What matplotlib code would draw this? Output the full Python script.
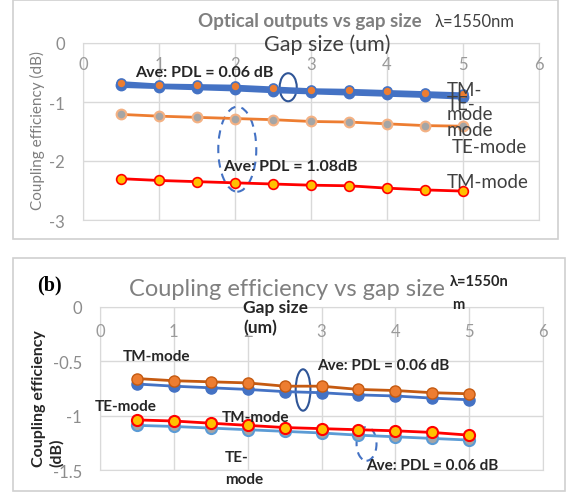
import matplotlib
matplotlib.use('Agg')
import matplotlib.pyplot as plt
from matplotlib.patches import Ellipse, Rectangle

plt.rcParams['font.family'] = ['Lato', 'DejaVu Sans']

# gap size (um)
gap = [0.5, 1.0, 1.5, 2.0, 2.5, 3.0, 3.5, 4.0, 4.5, 5.0]

# (a) optical outputs (dB)
a_tm_top = [-0.67, -0.71, -0.72, -0.73, -0.76, -0.79, -0.80, -0.82, -0.84, -0.86]
a_te_top = [-0.72, -0.74, -0.76, -0.78, -0.81, -0.83, -0.85, -0.87, -0.89, -0.92]
a_te_mid = [-1.21, -1.24, -1.26, -1.28, -1.30, -1.33, -1.34, -1.37, -1.40, -1.41]
a_tm_low = [-2.30, -2.33, -2.35, -2.37, -2.39, -2.41, -2.42, -2.46, -2.49, -2.51]

# (b) coupling efficiency (dB)
b_tm_top = [-0.66, -0.68, -0.69, -0.70, -0.73, -0.73, -0.76, -0.77, -0.79, -0.80]
b_te_top = [-0.71, -0.73, -0.745, -0.76, -0.78, -0.79, -0.81, -0.82, -0.84, -0.855]
b_tm_low = [-1.04, -1.05, -1.07, -1.09, -1.11, -1.12, -1.13, -1.14, -1.155, -1.18]
b_te_low = [-1.09, -1.10, -1.115, -1.13, -1.145, -1.16, -1.18, -1.195, -1.21, -1.225]

xticks = [0, 1, 2, 3, 4, 5, 6]
a_yticks = [0, -1, -2, -3]
b_yticks = [0, -0.5, -1, -1.5]
b_ylabels = ['0', '-0.5', '-1', '-1.5']

W, H = 576, 502
fig = plt.figure(figsize=(5.76, 5.02), dpi=100)


def fx(px):
    return px / W


def fy(py):
    return 1 - py / H


def frame(x0, y0, x1, y1):
    fig.patches.append(Rectangle((fx(x0), fy(y1)), fx(x1) - fx(x0), fy(y0) - fy(y1),
                                 transform=fig.transFigure, fill=False,
                                 ec='#d0d0d0', lw=1.2))


def style_axes(ax, yticks, ylabels, xlab_y):
    ax.set_xlim(0, 6)
    ax.set_xticks(xticks)
    ax.set_xticklabels([])
    ax.set_yticks(yticks)
    ax.set_yticklabels(ylabels)
    ax.grid(True, color='#d9d9d9', lw=1)
    ax.set_axisbelow(True)
    ax.tick_params(length=0, axis='y', pad=13, labelsize=12, labelcolor='#8c8c8c')
    ax.tick_params(length=0, axis='x')
    for s in ax.spines.values():
        s.set_color('#d9d9d9')
    for v in xticks:
        ax.text(v, xlab_y, str(v), ha='center', va='center', fontsize=12, color='#9a9a9a')


# ---------- panel (a) ----------
frame(13, 1, 558, 240)
ax1 = fig.add_axes([fx(83), fy(221), fx(539) - fx(83), fy(44) - fy(221)])
ax1.set_ylim(-3, 0)
style_axes(ax1, a_yticks, [str(v) for v in a_yticks], -0.36)

ax1.plot(gap, a_te_top, color='#4472c4', lw=3.5, marker='o', ms=7.5, mfc='#4472c4', mec='#4472c4', clip_on=False)
ax1.plot(gap, a_tm_top, color='#4472c4', lw=2, marker='o', ms=6.5, mfc='#ed7d31', mec='#4472c4', mew=1.2, clip_on=False)
ax1.plot(gap, a_te_mid, color='#ed7d31', lw=2, marker='o', ms=7, mfc='#a5a5a5', mec='#f4b183', mew=1.5, clip_on=False)
ax1.plot(gap, a_tm_low, color='#ff0000', lw=2, marker='o', ms=7, mfc='#ffc000', mec='#ff0000', mew=1.2, clip_on=False)

ax1.add_patch(Ellipse((2.70, -0.75), 0.225, 0.475, fill=False, ec='#2f5597', lw=1.5))
ax1.add_patch(Ellipse((2.03, -1.80), 0.50, 1.44, fill=False, ec='#4472c4', lw=1.5, ls=(0, (4, 3))))

ax1.text(0.69, -0.49, 'Ave: PDL = 0.06 dB', fontsize=11.5, fontweight='bold', color='#262626', va='center')
ax1.text(1.84, -2.08, 'Ave: PDL = 1.08dB', fontsize=11.5, fontweight='bold', color='#262626', va='center')
ax1.text(4.79, -0.78, 'TM-', fontsize=13.5, color='#404040', va='center')
ax1.text(4.79, -1.03, 'TE-', fontsize=13.5, color='#404040', va='center')
ax1.text(4.79, -1.20, 'mode', fontsize=13.5, color='#404040', va='center')
ax1.text(4.79, -1.46, 'mode', fontsize=13.5, color='#404040', va='center')
ax1.text(4.85, -1.75, 'TE-mode', fontsize=13.5, color='#404040', va='center')
ax1.text(4.79, -2.34, 'TM-mode', fontsize=13.5, color='#404040', va='center')

fig.text(fx(310), fy(22), 'Optical outputs vs gap size', ha='center', va='center',
         fontsize=13.5, fontweight='bold', color='#7f7f7f')
fig.text(fx(435), fy(22), 'λ=1550nm', ha='left', va='center', fontsize=12, color='#404040')
fig.text(fx(327), fy(45), 'Gap size (um)', ha='center', va='center', fontsize=15.5, color='#404040')
fig.text(fx(37), fy(130), 'Coupling efficiency (dB)', rotation=90, ha='center', va='center',
         fontsize=11, color='#7f7f7f')

# ---------- panel (b) ----------
frame(13, 259, 565, 492)
ax2 = fig.add_axes([fx(100), fy(471), fx(543) - fx(100), fy(307.7) - fy(471)])
ax2.set_ylim(-1.5, 0)
style_axes(ax2, b_yticks, b_ylabels, -0.22)

ax2.plot(gap, b_te_top, color='#4472c4', lw=2, marker='o', ms=8, mfc='#4472c4', mec='#4472c4', clip_on=False)
ax2.plot(gap, b_tm_top, color='#c55a11', lw=2, marker='o', ms=8, mfc='#ed7d31', mec='#c55a11', mew=1, clip_on=False)
ax2.plot(gap, b_te_low, color='#5b9bd5', lw=2, marker='o', ms=8, mfc='#a5a5a5', mec='#5b9bd5', mew=1.5, clip_on=False)
ax2.plot(gap, b_tm_low, color='#ff0000', lw=2, marker='o', ms=8, mfc='#ffc000', mec='#ff0000', mew=1.5, clip_on=False)

ax2.add_patch(Ellipse((2.75, -0.765), 0.20, 0.38, fill=False, ec='#2f5597', lw=1.5))
ax2.add_patch(Ellipse((3.61, -1.26), 0.27, 0.31, fill=False, ec='#4472c4', lw=1.5, ls=(0, (4, 3))))

bold = dict(fontsize=11, fontweight='bold', color='#262626', va='center')
ax2.text(0.31, -0.45, 'TM-mode', **bold)
ax2.text(-0.07, -0.91, 'TE-mode', **bold)
ax2.text(1.65, -1.01, 'TM-mode', **bold)
ax2.text(1.69, -1.38, 'TE-', **bold)
ax2.text(1.69, -1.58, 'mode', **bold)
ax2.text(2.94, -0.54, 'Ave: PDL = 0.06 dB', **bold)
ax2.text(3.61, -1.45, 'Ave: PDL = 0.06 dB', **bold)

fig.text(fx(243), fy(318), 'Gap size\n(um)', ha='left', va='center', fontsize=12.5,
         fontweight='bold', color='#262626', linespacing=1.3,
         bbox=dict(fc='white', ec='none', pad=0))
fig.text(fx(49), fy(285), '(b)', ha='center', va='center', fontsize=14.5, fontweight='bold',
         family='Liberation Serif', color='black')
fig.text(fx(287), fy(290), 'Coupling efficiency vs gap size', ha='center', va='center',
         fontsize=17, color='#808080')
fig.text(fx(450), fy(282), 'λ=1550n', ha='left', va='center', fontsize=10.5,
         fontweight='bold', color='#262626')
fig.text(fx(452), fy(305), 'm', ha='left', va='center', fontsize=10.5,
         fontweight='bold', color='#262626')
fig.text(fx(48), fy(467), 'Coupling efficiency\n(dB)', rotation=90, ha='center', va='bottom',
         multialignment='left', fontsize=11.5, fontweight='bold', color='#262626', linespacing=1.35)

fig.savefig('out.png', dpi=100)
